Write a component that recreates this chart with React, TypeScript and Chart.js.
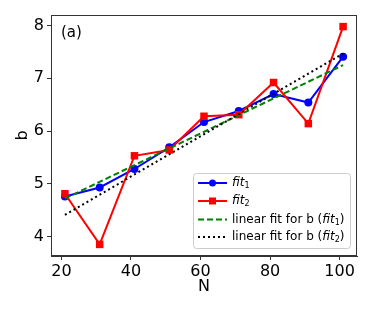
import React, { useEffect, useRef } from "react";
import { Chart, registerables } from "chart.js";

Chart.register(...registerables);

const N = [21, 31, 41, 51, 61, 71, 81, 91, 101];
const fit1 = [4.76, 4.93, 5.28, 5.69, 6.17, 6.38, 6.7, 6.54, 7.41];
const fit2 = [4.81, 3.85, 5.53, 5.64, 6.28, 6.31, 6.92, 6.14, 7.98];
const linX = [21, 101];
const lin1 = [4.72, 7.25];
const lin2 = [4.41, 7.47];
const xTicks = [20, 40, 60, 80, 100];
const yTicks = [4, 5, 6, 7, 8];

const FONT = "'DejaVu Sans', sans-serif";

const framePlugin = {
  id: "frame",
  afterDraw(chart: any) {
    const { ctx, chartArea: a } = chart;
    ctx.save();
    ctx.strokeStyle = "#333";
    ctx.lineWidth = 1;
    ctx.strokeRect(Math.round(a.left) + 0.5, Math.round(a.top) + 0.5, Math.round(a.right - a.left) - 1, Math.round(a.bottom - a.top) - 1);
    ctx.fillStyle = "#000";
    ctx.font = `15px ${FONT}`;
    ctx.textBaseline = "middle";
    ctx.textAlign = "left";
    ctx.fillText("(a)", a.left + 10, a.top + 18);
    ctx.restore();
  },
};

function drawFitLabel(ctx: any, x: number, y: number, pre: string, sub: string, post: string, size: number) {
  let cx = x;
  ctx.font = `${size}px ${FONT}`;
  if (pre) {
    ctx.fillText(pre, cx, y);
    cx += ctx.measureText(pre).width;
  }
  ctx.font = `italic ${size}px ${FONT}`;
  ctx.fillText("fit", cx, y);
  cx += ctx.measureText("fit").width;
  ctx.font = `${Math.round(size * 0.7)}px ${FONT}`;
  ctx.fillText(sub, cx, y + size * 0.25);
  cx += ctx.measureText(sub).width;
  if (post) {
    ctx.font = `${size}px ${FONT}`;
    ctx.fillText(post, cx, y);
  }
}

const legendPlugin = {
  id: "customLegend",
  afterDatasetsDraw(chart: any) {
    const { ctx } = chart;
    ctx.save();
    const bx = 193.5, by = 173.5, bw = 157, bh = 75;
    ctx.beginPath();
    ctx.roundRect(bx, by, bw, bh, 3);
    ctx.fillStyle = "rgba(255,255,255,0.85)";
    ctx.fill();
    ctx.strokeStyle = "#cccccc";
    ctx.lineWidth = 1;
    ctx.stroke();
    const ys = [183, 201, 219.5, 237];
    const x0 = 198, x1 = 227, tx = 232;
    const size = 12;
    ctx.lineWidth = 2;
    ctx.strokeStyle = "#0000ff";
    ctx.setLineDash([]);
    ctx.beginPath(); ctx.moveTo(x0, ys[0]); ctx.lineTo(x1, ys[0]); ctx.stroke();
    ctx.fillStyle = "#0000ff";
    ctx.beginPath(); ctx.arc((x0 + x1) / 2, ys[0], 3.5, 0, Math.PI * 2); ctx.fill();
    ctx.strokeStyle = "#ff0000";
    ctx.beginPath(); ctx.moveTo(x0, ys[1]); ctx.lineTo(x1, ys[1]); ctx.stroke();
    ctx.fillStyle = "#ff0000";
    ctx.fillRect((x0 + x1) / 2 - 3.5, ys[1] - 3.5, 7, 7);
    ctx.strokeStyle = "#008000";
    ctx.setLineDash([6, 3]);
    ctx.beginPath(); ctx.moveTo(x0, ys[2]); ctx.lineTo(x1, ys[2]); ctx.stroke();
    ctx.strokeStyle = "#000000";
    ctx.setLineDash([2, 3]);
    ctx.beginPath(); ctx.moveTo(x0, ys[3]); ctx.lineTo(x1, ys[3]); ctx.stroke();
    ctx.setLineDash([]);
    ctx.fillStyle = "#000";
    ctx.textBaseline = "middle";
    ctx.textAlign = "left";
    drawFitLabel(ctx, tx, ys[0], "", "1", "", size);
    drawFitLabel(ctx, tx, ys[1], "", "2", "", size);
    drawFitLabel(ctx, tx, ys[2], "linear fit for b (", "1", ")", size);
    drawFitLabel(ctx, tx, ys[3], "linear fit for b (", "2", ")", size);
    ctx.restore();
  },
};

export default function App() {
  const ref = useRef<HTMLCanvasElement>(null);
  useEffect(() => {
    const toXY = (xs: number[], ys: number[]) => xs.map((x, i) => ({ x, y: ys[i] }));
    const chart = new Chart(ref.current!, {
      type: "line",
      data: {
        datasets: [
          {
            label: "fit1",
            data: toXY(N, fit1),
            borderColor: "#0000ff",
            backgroundColor: "#0000ff",
            borderWidth: 2,
            pointStyle: "circle",
            pointRadius: 4,
            pointBorderWidth: 0,
            order: 4,
          },
          {
            label: "fit2",
            data: toXY(N, fit2),
            borderColor: "#ff0000",
            backgroundColor: "#ff0000",
            borderWidth: 2,
            pointStyle: "rect",
            pointRadius: 5.3,
            pointBorderWidth: 0,
            order: 3,
          },
          {
            label: "linear fit for b (fit1)",
            data: toXY(linX, lin1),
            borderColor: "#008000",
            borderWidth: 2,
            borderDash: [6, 3],
            pointRadius: 0,
            order: 2,
          },
          {
            label: "linear fit for b (fit2)",
            data: toXY(linX, lin2),
            borderColor: "#000000",
            borderWidth: 2,
            borderDash: [2, 3],
            pointRadius: 0,
            order: 1,
          },
        ],
      },
      options: {
        animation: false,
        responsive: false,
        layout: { padding: { left: 0, top: 15, right: 17, bottom: 0 } },
        plugins: { legend: { display: false }, tooltip: { enabled: false } },
        scales: {
          x: {
            type: "linear",
            min: 17,
            max: 105,
            afterBuildTicks: (s: any) => { s.ticks = xTicks.map((v) => ({ value: v })); },
            afterFit: (s: any) => { s.height = 56; },
            grid: { display: true, drawOnChartArea: false, drawTicks: true, tickLength: 4, tickColor: "#333", tickWidth: 1 },
            border: { display: true, color: "#333", width: 1 },
            ticks: { color: "#000", font: { family: FONT, size: 16 }, padding: 2, maxRotation: 0 },
            title: { display: true, text: "N", color: "#000", font: { family: FONT, size: 16 }, padding: { top: 0, bottom: 16 } },
          },
          y: {
            type: "linear",
            min: 3.63,
            max: 8.2,
            afterBuildTicks: (s: any) => { s.ticks = yTicks.map((v) => ({ value: v })); },
            afterFit: (s: any) => { s.width = 51; },
            grid: { display: true, drawOnChartArea: false, drawTicks: true, tickLength: 4, tickColor: "#333", tickWidth: 1 },
            border: { display: true, color: "#333", width: 1 },
            ticks: { color: "#000", font: { family: FONT, size: 16 }, padding: 3 },
            title: { display: true, text: "b", color: "#000", font: { family: FONT, size: 16 }, padding: { top: 13, bottom: 0 } },
          },
        },
      },
      plugins: [framePlugin, legendPlugin],
    } as any);
    return () => chart.destroy();
  }, []);
  return (
    <div style={{ position: "absolute", left: 0, top: 0 }}>
      <canvas ref={ref} width={374} height={312} style={{ display: "block" }} />
    </div>
  );
}
